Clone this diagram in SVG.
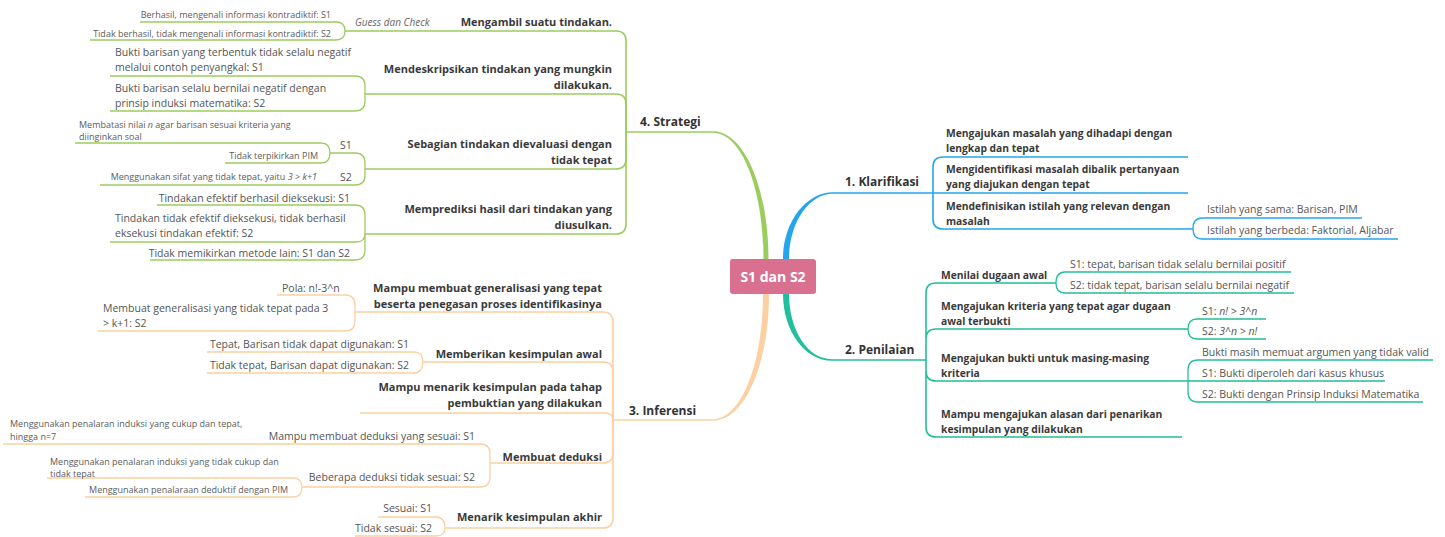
<svg xmlns="http://www.w3.org/2000/svg" width="1445" height="537" viewBox="0 0 1445 537">
<style>
text{font-family:"Open Sans","Noto Sans","Liberation Sans",sans-serif}
.l0{font-size:14px;font-weight:700;fill:#fff;text-anchor:middle}
.l1{font-size:12px;font-weight:700;fill:#333}
.l2{font-size:11px;font-weight:700;fill:#3a3a3a}
.r2{font-size:10.3px;font-weight:700;fill:#3a3a3a}
.l3{font-size:10.5px;fill:#555}
.l4{font-size:9px;fill:#5c5c5c}
.e{text-anchor:end}
.it{font-style:italic}
.gs{font-size:10px;font-style:italic;fill:#666}
path.c{fill:none;stroke-width:1.6}
path.s{fill:none;stroke-width:1.3}
.g{stroke:#9acd5e}
.b{stroke:#25a6ec}
.t{stroke:#21bf9c}
.o{stroke:#fcd0a0}
</style>
<g id="connectors">
<path d="M763.5 259C763.5 190 742 132.8 713 132.8V131.2C744 131.2 768.5 188 768.5 259Z" fill="#9acd5e"/>
<path d="M783 259C783 222 806 192.2 833 192.2V193.8C808 193.8 789 224 789 259Z" fill="#25a6ec"/>
<path d="M783 294C783 331 805 360.8 832 360.8V359.2C807 359.2 789 329 789 294Z" fill="#21bf9c"/>
<path d="M763 294C763 364 741 419.2 713 419.2V420.8C744 420.8 769 366 769 294Z" fill="#fcd0a0"/>
<path class="c g" d="M626 132H713"/>
<path class="c g" d="M345 31H616Q626 31 626 41V132"/>
<path class="c g" d="M365 94H616Q626 94 626 104V132"/>
<path class="c g" d="M365 169H616Q626 169 626 159V132"/>
<path class="c g" d="M365 234H616Q626 234 626 224V132"/>
<path class="s g" d="M345 31C345 25 342 22 336 22H140M345 31C345 37 342 40 336 40H90"/>
<path class="s g" d="M365 94V86Q365 76 355 76H110M365 94V101Q365 111 355 111H110"/>
<path class="s g" d="M365 169V163Q365 153 355 153H330M365 169V175Q365 185 355 185H100"/>
<path class="s g" d="M330 153C330 147 327 143 321 143H75M330 153C330 159 327 163 321 163H225"/>
<path class="s g" d="M365 234V215Q365 205 355 205H157M365 234C365 239 362 242 356 242H110M365 234V250Q365 260 355 260H150"/>
<path class="c o" d="M613 420H713"/>
<path class="c o" d="M355 312H603Q613 312 613 322V420"/>
<path class="c o" d="M423 362H603Q613 362 613 372V420"/>
<path class="c o" d="M360 413H605C610 413 613 415 613 420"/>
<path class="c o" d="M490 463H603Q613 463 613 453V420"/>
<path class="c o" d="M445 528H603Q613 528 613 518V420"/>
<path class="s o" d="M355 312V305Q355 295 345 295H277M355 312V321Q355 331 345 331H98"/>
<path class="s o" d="M423 362C423 356 420 352 414 352H207M423 362C423 368 420 373 414 373H207"/>
<path class="s o" d="M490 463V454Q490 444 480 444H3M490 463V477Q490 487 480 487H302"/>
<path class="s o" d="M302 487C302 482 299 478 293 478H47M302 487C302 493 299 497 293 497H85"/>
<path class="s o" d="M445 528C445 521 442 517 436 517H378M445 528C445 533 442 536 436 536H355"/>
<path class="c b" d="M833 193H933"/>
<path class="c b" d="M933 193V167Q933 157 943 157H1188M933 193H1188M933 193V219Q933 229 943 229H1193"/>
<path class="s b" d="M1193 229C1193 222 1196 218 1202 218H1362M1193 229C1193 235 1196 239 1202 239H1398"/>
<path class="c t" d="M832 360H926"/>
<path class="c t" d="M926 360V293Q926 283 936 283H1056M926 360V339Q926 329 936 329H1188M926 360V371Q926 381 936 381H1188M926 360V427Q926 437 936 437H1182"/>
<path class="s t" d="M1056 283C1056 276 1059 272 1065 272H1291M1056 283C1056 289 1059 293 1065 293H1294"/>
<path class="s t" d="M1188 329C1188 323 1191 319 1197 319H1266M1188 329C1188 335 1191 339 1197 339H1266"/>
<path class="s t" d="M1188 381V370Q1188 360 1198 360H1433M1188 381H1385M1188 381V392Q1188 402 1198 402H1423"/>
</g>
<g id="n-center"><rect x="730" y="259" width="86" height="35" rx="3" fill="#d9708f"/><text class="l0" x="773" y="281.5">S1 dan S2</text></g>
<g id="n-strategi"><text class="l1" x="640" y="126">4. Strategi</text></g>
<g id="n-mengambil"><text class="l2 e" x="612" y="26">Mengambil suatu tindakan.</text></g>
<g id="n-guess"><text class="gs" x="355" y="26">Guess dan Check</text></g>
<g id="n-berhasil"><text class="l4 e" x="331" y="18">Berhasil, mengenali informasi kontradiktif: S1</text></g>
<g id="n-tidakberhasil"><text class="l4 e" x="331" y="36.5">Tidak berhasil, tidak mengenali informasi kontradiktif: S2</text></g>
<g id="n-mendeskripsikan"><text class="l2 e" y="73"><tspan x="612">Mendeskripsikan tindakan yang mungkin</tspan><tspan x="612" dy="16">dilakukan.</tspan></text></g>
<g id="n-bukti1"><text class="l3" y="56"><tspan x="115">Bukti barisan yang terbentuk tidak selalu negatif</tspan><tspan x="115" dy="15">melalui contoh penyangkal: S1</tspan></text></g>
<g id="n-bukti2"><text class="l3" y="92"><tspan x="115">Bukti barisan selalu bernilai negatif dengan</tspan><tspan x="115" dy="15">prinsip induksi matematika: S2</tspan></text></g>
<g id="n-sebagian"><text class="l2 e" y="147.5"><tspan x="612">Sebagian tindakan dievaluasi dengan</tspan><tspan x="612" dy="16.5">tidak tepat</tspan></text></g>
<g id="n-s1a"><text class="l3" x="340" y="149">S1</text></g>
<g id="n-s2a"><text class="l3" x="340" y="180.5">S2</text></g>
<g id="n-membatasi"><text class="l4" y="127.5"><tspan x="79">Membatasi nilai </tspan><tspan class="it">n</tspan><tspan> agar barisan sesuai kriteria yang</tspan><tspan x="79" dy="12.8">diinginkan soal</tspan></text></g>
<g id="n-tidakterpikirkan"><text class="l4 e" x="318" y="159">Tidak terpikirkan PIM</text></g>
<g id="n-sifat"><text class="l4 e" x="317" y="179.5">Menggunakan sifat yang tidak tepat, yaitu <tspan class="it">3</tspan> &gt; <tspan class="it">k+1</tspan></text></g>
<g id="n-memprediksi"><text class="l2 e" y="212.5"><tspan x="612">Memprediksi hasil dari tindakan yang</tspan><tspan x="612" dy="16.5">diusulkan.</tspan></text></g>
<g id="n-efektif"><text class="l3 e" x="350" y="202">Tindakan efektif berhasil dieksekusi: S1</text></g>
<g id="n-tidakefektif"><text class="l3" y="221.5"><tspan x="115">Tindakan tidak efektif dieksekusi, tidak berhasil</tspan><tspan x="115" dy="15.5">eksekusi tindakan efektif: S2</tspan></text></g>
<g id="n-tidakmemikirkan"><text class="l3 e" x="350" y="257">Tidak memikirkan metode lain: S1 dan S2</text></g>
<g id="n-inferensi"><text class="l1" x="629" y="414.5">3. Inferensi</text></g>
<g id="n-generalisasi"><text class="l2 e" y="291.5"><tspan x="602">Mampu membuat generalisasi yang tepat</tspan><tspan x="602" dy="16">beserta penegasan proses identifikasinya</tspan></text></g>
<g id="n-pola"><text class="l3" x="282" y="291.5">Pola: n!-3^n</text></g>
<g id="n-membuatgen"><text class="l3" y="312"><tspan x="103">Membuat generalisasi yang tidak tepat pada 3</tspan><tspan x="103" dy="15">&gt; k+1: S2</tspan></text></g>
<g id="n-kesimpulanawal"><text class="l2 e" x="602" y="357.5">Memberikan kesimpulan awal</text></g>
<g id="n-tepat"><text class="l3 e" x="409" y="347.5">Tepat, Barisan tidak dapat digunakan: S1</text></g>
<g id="n-tidaktepat"><text class="l3 e" x="409" y="368.5">Tidak tepat, Barisan dapat digunakan: S2</text></g>
<g id="n-menarikpembuktian"><text class="l2 e" y="390.5"><tspan x="602">Mampu menarik kesimpulan pada tahap</tspan><tspan x="602" dy="16">pembuktian yang dilakukan</tspan></text></g>
<g id="n-deduksi"><text class="l2 e" x="602" y="460.5">Membuat deduksi</text></g>
<g id="n-deduksis1"><text class="l3 e" x="475" y="440">Mampu membuat deduksi yang sesuai: S1</text></g>
<g id="n-induksicukup"><text class="l4" y="427"><tspan x="10">Menggunakan penalaran induksi yang cukup dan tepat,</tspan><tspan x="10" dy="12.5">hingga n=7</tspan></text></g>
<g id="n-deduksis2"><text class="l3 e" x="475" y="481">Beberapa deduksi tidak sesuai: S2</text></g>
<g id="n-induksitidak"><text class="l4" y="465"><tspan x="50">Menggunakan penalaran induksi yang tidak cukup dan</tspan><tspan x="50" dy="12">tidak tepat</tspan></text></g>
<g id="n-deduktif"><text class="l4 e" x="288" y="493">Menggunakan penalaraan deduktif dengan PIM</text></g>
<g id="n-akhir"><text class="l2 e" x="602" y="521">Menarik kesimpulan akhir</text></g>
<g id="n-sesuai"><text class="l3 e" x="432" y="511.5">Sesuai: S1</text></g>
<g id="n-tidaksesuai"><text class="l3 e" x="432" y="532">Tidak sesuai: S2</text></g>
<g id="n-klarifikasi"><text class="l1" x="845" y="186">1. Klarifikasi</text></g>
<g id="n-mengajukanmasalah"><text class="r2" y="137"><tspan x="946">Mengajukan masalah yang dihadapi dengan</tspan><tspan x="946" dy="15">lengkap dan tepat</tspan></text></g>
<g id="n-mengidentifikasi"><text class="r2" y="173"><tspan x="946">Mengidentifikasi masalah dibalik pertanyaan</tspan><tspan x="946" dy="15">yang diajukan dengan tepat</tspan></text></g>
<g id="n-mendefinisikan"><text class="r2" y="209.5"><tspan x="946">Mendefinisikan istilah yang relevan dengan</tspan><tspan x="946" dy="15">masalah</tspan></text></g>
<g id="n-istilahsama"><text class="l3" x="1207" y="213">Istilah yang sama: Barisan, PIM</text></g>
<g id="n-istilahbeda"><text class="l3" x="1207" y="234">Istilah yang berbeda: Faktorial, Aljabar</text></g>
<g id="n-penilaian"><text class="l1" x="845" y="354">2. Penilaian</text></g>
<g id="n-menilai"><text class="r2" x="941" y="279">Menilai dugaan awal</text></g>
<g id="n-ps1"><text class="l3" x="1070" y="268">S1: tepat, barisan tidak selalu bernilai positif</text></g>
<g id="n-ps2"><text class="l3" x="1070" y="289">S2: tidak tepat, barisan selalu bernilai negatif</text></g>
<g id="n-kriteria"><text class="r2" y="310"><tspan x="941">Mengajukan kriteria yang tepat agar dugaan</tspan><tspan x="941" dy="15">awal terbukti</tspan></text></g>
<g id="n-ks1"><text class="l3" x="1202" y="314.5">S1: <tspan class="it">n! &gt; 3^n</tspan></text></g>
<g id="n-ks2"><text class="l3" x="1202" y="335">S2: <tspan class="it">3^n &gt; n!</tspan></text></g>
<g id="n-buktiuntuk"><text class="r2" y="362"><tspan x="941">Mengajukan bukti untuk masing-masing</tspan><tspan x="941" dy="15">kriteria</tspan></text></g>
<g id="n-tidakvalid"><text class="l3" x="1202" y="356">Bukti masih memuat argumen yang tidak valid</text></g>
<g id="n-bs1"><text class="l3" x="1202" y="377">S1: Bukti diperoleh dari kasus khusus</text></g>
<g id="n-bs2"><text class="l3" x="1202" y="398">S2: Bukti dengan Prinsip Induksi Matematika</text></g>
<g id="n-alasan"><text class="r2" y="418"><tspan x="941">Mampu mengajukan alasan dari penarikan</tspan><tspan x="941" dy="14.5">kesimpulan yang dilakukan</tspan></text></g>
</svg>
